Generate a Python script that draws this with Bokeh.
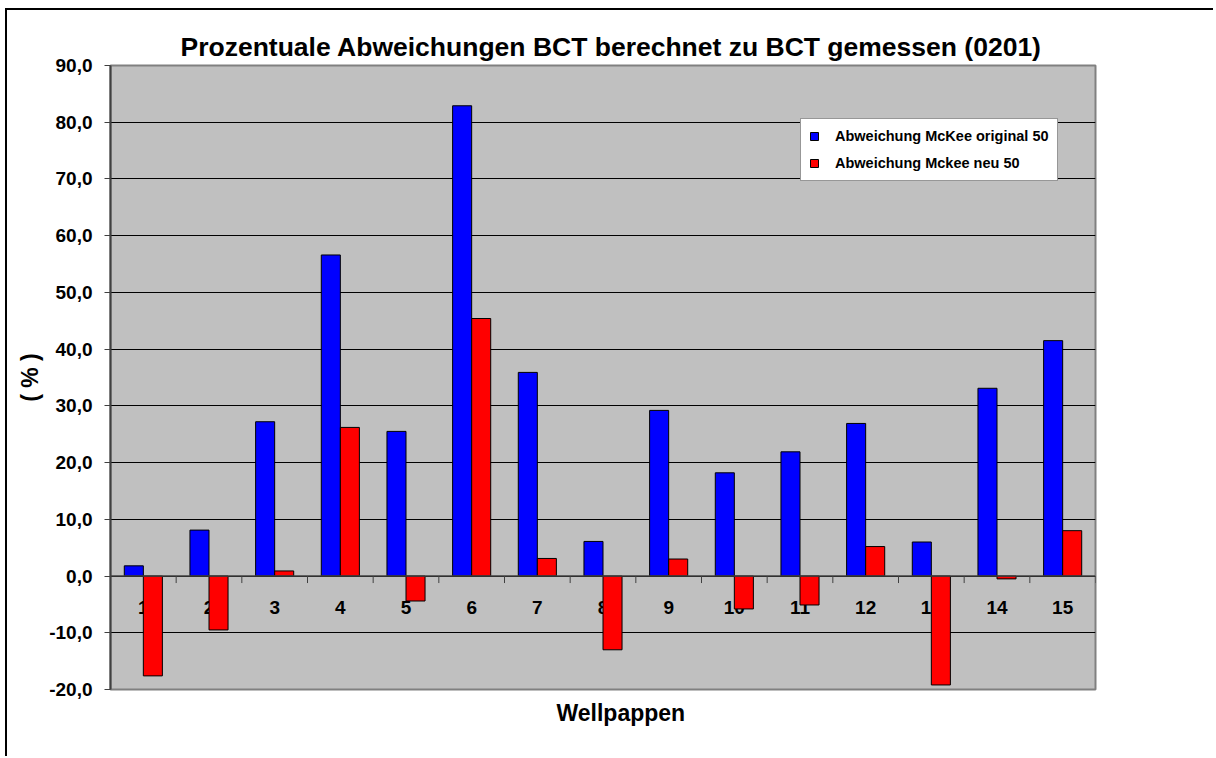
from bokeh.plotting import figure
from bokeh.models import Range1d, FixedTicker, Legend, LegendItem, ColumnDataSource, Span, Title
from bokeh.transform import dodge
from bokeh.core.properties import value
from bokeh.embed import file_html
from bokeh.resources import INLINE

# ---- data ----
categories = [str(i) for i in range(1, 16)]
mckee_original = [1.8, 8.1, 27.2, 56.6, 25.5, 82.9, 35.9, 6.1, 29.2, 18.2, 21.9, 26.9, 6.0, 33.1, 41.5]
mckee_neu = [-17.6, -9.5, 0.9, 26.2, -4.4, 45.4, 3.1, -13.0, 3.0, -5.8, -5.1, 5.2, -19.2, -0.5, 8.0]
y_ticks = [-20, -10, 0, 10, 20, 30, 40, 50, 60, 70, 80, 90]
y_tick_labels = ["-20,0", "-10,0", "0,0", "10,0", "20,0", "30,0", "40,0", "50,0", "60,0", "70,0", "80,0", "90,0"]
series_names = ["Abweichung McKee original 50", "Abweichung Mckee neu 50"]
title_text = "Prozentuale Abweichungen BCT berechnet zu BCT gemessen (0201)"
x_title = "Wellpappen"
y_title = "( % )"

FONT = "Liberation Sans"
W, H = 1208, 748
MB_L, MB_T, MB_R, MB_B = 103, 55, 120, 69
Y_MIN, Y_MAX = -20, 90

xs = list(range(1, len(categories) + 1))
src = ColumnDataSource(dict(x=xs, cat=categories, orig=mckee_original, neu=mckee_neu,
                            zero=[0] * len(xs)))

p = figure(width=W, height=H, output_backend="svg", toolbar_location=None,
           x_range=Range1d(0.5, len(categories) + 0.5), y_range=Range1d(Y_MIN, Y_MAX),
           x_axis_location=None, min_border_left=MB_L, min_border_top=MB_T,
           min_border_right=MB_R, min_border_bottom=MB_B)
p.styles = {"position": "absolute", "left": "5px", "top": "8px",
            "border-left": "2px solid black", "border-top": "2px solid black"}

p.background_fill_color = "#C0C0C0"
p.border_fill_color = "white"
p.outline_line_color = "#808080"
p.outline_line_width = 2

# grid
p.xgrid.visible = False
p.ygrid.ticker = FixedTicker(ticks=y_ticks)
p.ygrid.grid_line_color = "black"
p.ygrid.grid_line_width = 1

# y axis
yax = p.yaxis[0]
yax.ticker = FixedTicker(ticks=y_ticks)
yax.major_label_overrides = {t: l for t, l in zip(y_ticks, y_tick_labels)}
yax.major_label_text_font = FONT
yax.major_label_text_font_style = "bold"
yax.major_label_text_font_size = "19px"
yax.major_label_text_color = "black"
yax.major_label_standoff = 12
yax.major_tick_out = 6
yax.major_tick_in = 0
yax.minor_tick_out = 0
yax.minor_tick_in = 0
yax.axis_line_color = "#404040"
yax.axis_line_width = 2
yax.major_tick_line_color = "#404040"
yax.major_tick_line_width = 1
yax.axis_label = y_title
yax.axis_label_text_font = FONT
yax.axis_label_text_font_style = "bold"
yax.axis_label_text_font_size = "23px"
yax.axis_label_text_color = "black"
yax.axis_label_standoff = 3

# category labels (beneath bars)
p.text(x="x", y="zero", text="cat", source=src, text_font=value(FONT), text_font_style="bold",
       text_font_size="19px", text_color="black", text_align="center", text_baseline="middle",
       y_offset=31)

# zero axis line and category boundary ticks
frame_h = H - MB_T - MB_B
tick_len = 7 * (Y_MAX - Y_MIN) / frame_h
bounds = [i + 0.5 for i in range(0, len(categories) + 1)]
p.segment(x0=bounds, y0=[0] * len(bounds), x1=bounds, y1=[-tick_len] * len(bounds),
          line_color="#404040", line_width=1)

# bars
r1 = p.vbar(x=dodge("x", -0.145, range=p.x_range), top="orig", bottom=0, width=0.29, source=src,
            fill_color="#0000FF", line_color="black", line_width=1)
r2 = p.vbar(x=dodge("x", 0.145, range=p.x_range), top="neu", bottom=0, width=0.29, source=src,
            fill_color="#FF0000", line_color="black", line_width=1)

p.add_layout(Span(location=0, dimension="width", line_color="#404040", line_width=1.5))

legend = Legend(items=[LegendItem(label=series_names[0], renderers=[r1]),
                       LegendItem(label=series_names[1], renderers=[r2])],
                location=(690, 508), orientation="vertical")
legend.label_text_font = FONT
legend.label_text_font_style = "bold"
legend.label_text_font_size = "14.5px"
legend.label_text_color = "black"
legend.glyph_width = 10
legend.glyph_height = 10
legend.label_height = 18
legend.label_standoff = 16
legend.spacing = 9
legend.padding = 8
legend.margin = 0
legend.border_line_color = "#303030"
legend.border_line_width = 1
legend.background_fill_color = "white"
legend.background_fill_alpha = 1
p.add_layout(legend, "center")

# titles
t = Title(text=title_text, align="left", offset=70, text_font=FONT, text_font_style="bold",
          text_font_size="26.5px", text_color="black", standoff=7)
p.add_layout(t, "above")
xt = Title(text=x_title, align="left", offset=446, text_font=FONT, text_font_style="bold",
           text_font_size="23px", text_color="black", standoff=17)
p.add_layout(xt, "below")

open("out.html", "w").write(file_html(p, INLINE))
